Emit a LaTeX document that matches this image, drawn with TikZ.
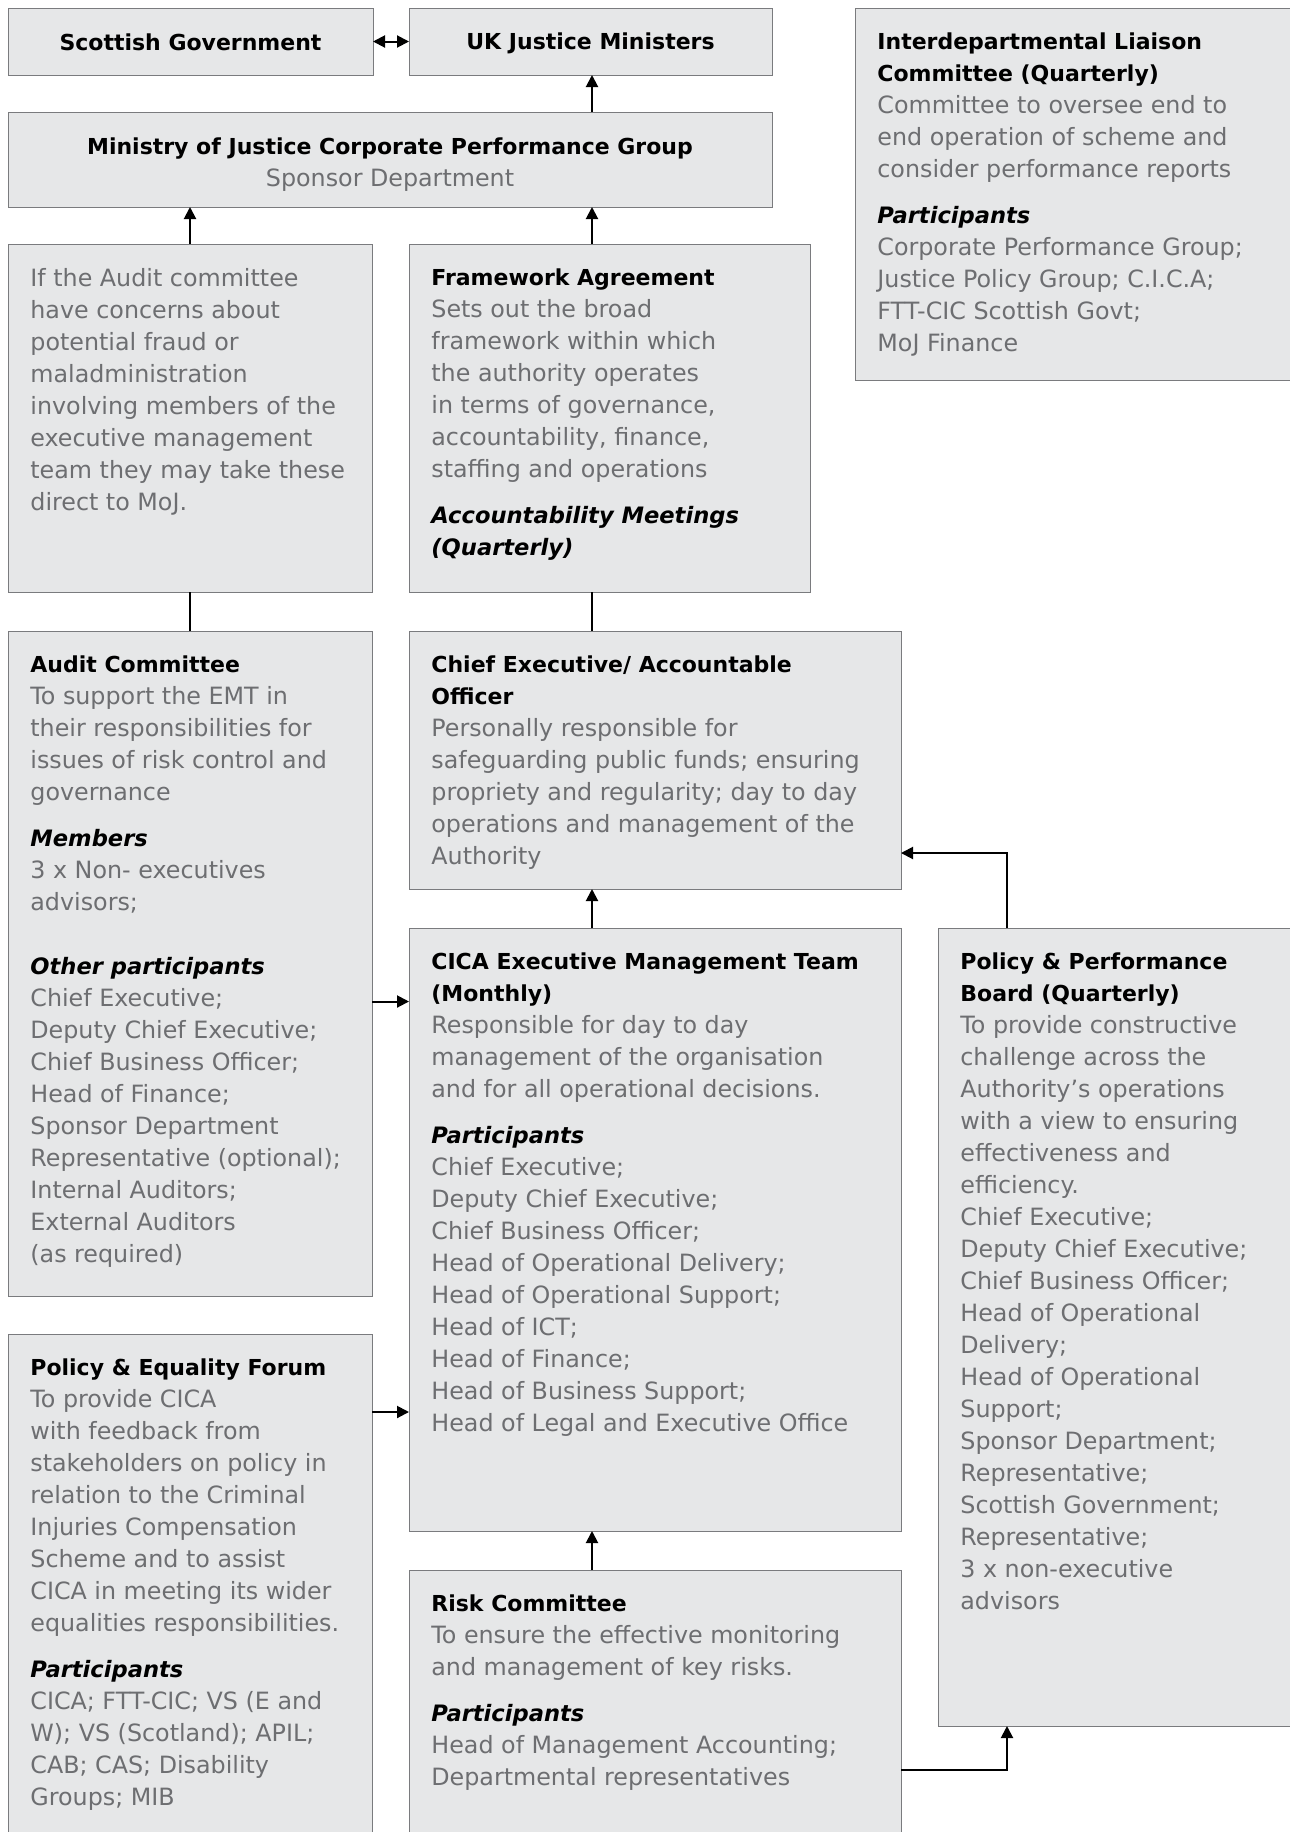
\documentclass[tikz,border=0pt]{standalone}
\usepackage{fontspec}
\setmainfont{DejaVu Sans}
\usetikzlibrary{arrows.meta, positioning}
\definecolor{boxfill}{HTML}{E6E7E8}
\definecolor{bodygray}{HTML}{6D6E71}
\definecolor{edgegray}{HTML}{7A7B7E}
\newcommand{\grtitle}[1]{{\color{black}\fontsize{11}{16}\selectfont\bfseries #1}}
\newcommand{\grpart}[1]{{\color{black}\fontsize{11.3}{16}\selectfont\bfseries\itshape #1}}

\begin{document}
\begin{tikzpicture}
    [
        x=0.5pt, y=-0.5pt,
        font=\fontsize{11.9}{16}\selectfont,
        grp/.style  ={rectangle, draw=edgegray, line width=0.5pt, fill=boxfill,
                      inner sep=0pt, outer sep=0pt, anchor=north west},
        hgrp/.style ={grp, align=center, font=\fontsize{11}{16}\selectfont\bfseries},
        txt/.style  ={anchor=north west, inner sep=0pt, align=left, text=bodygray},
        oarc/.style ={->, >={Triangle[length=6pt,width=6pt]}, line width=1pt},
        olink/.style={-, line width=1pt}
    ]
    \useasboundingbox (0,0) rectangle (1290,1832);
    \coordinate (spine) at (592,0);

    % top row
    \node[hgrp, minimum width=182.5pt, minimum height=33.5pt] (sg)  at (8,8)
        {\rule[-1pt]{0pt}{11pt}Scottish Government};
    \node[hgrp, minimum width=181.5pt, minimum height=33.5pt] (ukj) at (409,8)
        {\rule[-1pt]{0pt}{11pt}UK Justice Ministers};
    \node[hgrp, minimum width=382pt,   minimum height=47.5pt] (moj) at (8,112)
        {\rule{0pt}{13pt}Ministry of Justice Corporate Performance Group\\
         {\mdseries\fontsize{11.9}{16}\selectfont\color{bodygray}Sponsor Department}};
    \node[grp,  minimum width=220pt,   minimum height=186pt]  (ilc) at (855,8) {};

    % second row
    \node[grp, minimum width=182pt,   minimum height=174pt]   (conc) at (8,244)   {};
    \node[grp, minimum width=200.5pt, minimum height=174pt]   (fwk)  at (409,244) {};

    % main boxes
    \node[grp, minimum width=182pt, minimum height=332.5pt]   (aud)  at (8,631)    {};
    \node[grp, minimum width=246pt, minimum height=129pt]     (ceo)  at (409,631)  {};
    \node[grp, minimum width=246pt, minimum height=301.5pt]   (emt)  at (409,928)  {};
    \node[grp, minimum width=178pt, minimum height=399pt]     (ppb)  at (938,928)  {};
    \node[grp, minimum width=182pt, minimum height=252pt]     (pef)  at (8,1334)   {};
    \node[grp, minimum width=246pt, minimum height=134pt]     (risk) at (409,1570) {};

    % texts
    \node[txt] (ilct) at ([xshift=11pt, yshift=-12pt]ilc.north west)
        {\grtitle{Interdepartmental Liaison}\\
         \grtitle{Committee (Quarterly)}\\
         Committee to oversee end to\\
         end operation of scheme and\\
         consider performance reports\\[7.4pt]
         \grpart{Participants}\\
         Corporate Performance Group;\\
         Justice Policy Group; C.I.C.A;\\
         FTT-CIC Scottish Govt;\\
         MoJ Finance};

    \node[txt] (conct) at ([xshift=11pt, yshift=-12pt]conc.north west)
        {If the Audit committee\\
         have concerns about\\
         potential fraud or\\
         maladministration\\
         involving members of the\\
         executive management\\
         team they may take these\\
         direct to MoJ.};

    \node[txt] (fwkt) at ([xshift=11pt, yshift=-12pt]fwk.north west)
        {\grtitle{Framework Agreement}\\
         Sets out the broad\\
         framework within which\\
         the authority operates\\
         in terms of governance,\\
         accountability, finance,\\
         staffing and operations\\[7.4pt]
         \grpart{Accountability Meetings}\\
         \grpart{(Quarterly)}};

    \node[txt] (audt) at ([xshift=11pt, yshift=-12pt]aud.north west)
        {\grtitle{Audit Committee}\\
         To support the EMT in\\
         their responsibilities for\\
         issues of risk control and\\
         governance\\[7.4pt]
         \grpart{Members}\\
         3 x Non- executives\\
         advisors;\\[16pt]
         \grpart{Other participants}\\
         Chief Executive;\\
         Deputy Chief Executive;\\
         Chief Business Officer;\\
         Head of Finance;\\
         Sponsor Department\\
         Representative (optional);\\
         Internal Auditors;\\
         External Auditors\\
         (as required)};

    \node[txt] (ceot) at ([xshift=11pt, yshift=-12pt]ceo.north west)
        {\grtitle{Chief Executive/ Accountable}\\
         \grtitle{Officer}\\
         Personally responsible for\\
         safeguarding public funds; ensuring\\
         propriety and regularity; day to day\\
         operations and management of the\\
         Authority};

    \node[txt] (emtt) at ([xshift=11pt, yshift=-12pt]emt.north west)
        {\grtitle{CICA Executive Management Team}\\
         \grtitle{(Monthly)}\\
         Responsible for day to day\\
         management of the organisation\\
         and for all operational decisions.\\[7.4pt]
         \grpart{Participants}\\
         Chief Executive;\\
         Deputy Chief Executive;\\
         Chief Business Officer;\\
         Head of Operational Delivery;\\
         Head of Operational Support;\\
         Head of ICT;\\
         Head of Finance;\\
         Head of Business Support;\\
         Head of Legal and Executive Office};

    \node[txt] (ppbt) at ([xshift=11pt, yshift=-12pt]ppb.north west)
        {\grtitle{Policy \& Performance}\\
         \grtitle{Board (Quarterly)}\\
         To provide constructive\\
         challenge across the\\
         Authority’s operations\\
         with a view to ensuring\\
         effectiveness and\\
         efficiency.\\
         Chief Executive;\\
         Deputy Chief Executive;\\
         Chief Business Officer;\\
         Head of Operational\\
         Delivery;\\
         Head of Operational\\
         Support;\\
         Sponsor Department;\\
         Representative;\\
         Scottish Government;\\
         Representative;\\
         3 x non-executive\\
         advisors};

    \node[txt] (peft) at ([xshift=11pt, yshift=-12pt]pef.north west)
        {\grtitle{Policy \& Equality Forum}\\
         To provide CICA\\
         with feedback from\\
         stakeholders on policy in\\
         relation to the Criminal\\
         Injuries Compensation\\
         Scheme and to assist\\
         CICA in meeting its wider\\
         equalities responsibilities.\\[7.4pt]
         \grpart{Participants}\\
         CICA; FTT-CIC; VS (E and\\
         W); VS (Scotland); APIL;\\
         CAB; CAS; Disability\\
         Groups; MIB};

    \node[txt] (riskt) at ([xshift=11pt, yshift=-12pt]risk.north west)
        {\grtitle{Risk Committee}\\
         To ensure the effective monitoring\\
         and management of key risks.\\[7.4pt]
         \grpart{Participants}\\
         Head of Management Accounting;\\
         Departmental representatives};

    % connectors
    \draw[oarc, <->] (sg.east) -- (ukj.west);
    \draw[oarc] (moj.north -| spine) -- (ukj.south -| spine);
    \draw[oarc] (conc.north) -- (conc.north |- moj.south);
    \draw[oarc] (fwk.north -| spine) -- (moj.south -| spine);
    \draw[olink] (conc.south) -- (aud.north);
    \draw[olink] (fwk.south -| spine) -- (ceo.north -| spine);
    \draw[oarc] (emt.north -| spine) -- (ceo.south -| spine);
    \draw[oarc] (risk.north -| spine) -- (emt.south -| spine);
    \draw[oarc] ([yshift=-19pt]aud.east) -- ([yshift=-19pt]aud.east -| emt.west);
    \draw[oarc] ([yshift=-39pt]pef.north east) -- ([yshift=-39pt]pef.north east -| emt.west);
    \draw[oarc] ([xshift=34.5pt]ppb.north west) |- ([yshift=-111pt]ceo.north east);
    \draw[oarc] ([yshift=-100pt]risk.north east) -| ([xshift=34.5pt]ppb.south west);
\end{tikzpicture}
\end{document}
